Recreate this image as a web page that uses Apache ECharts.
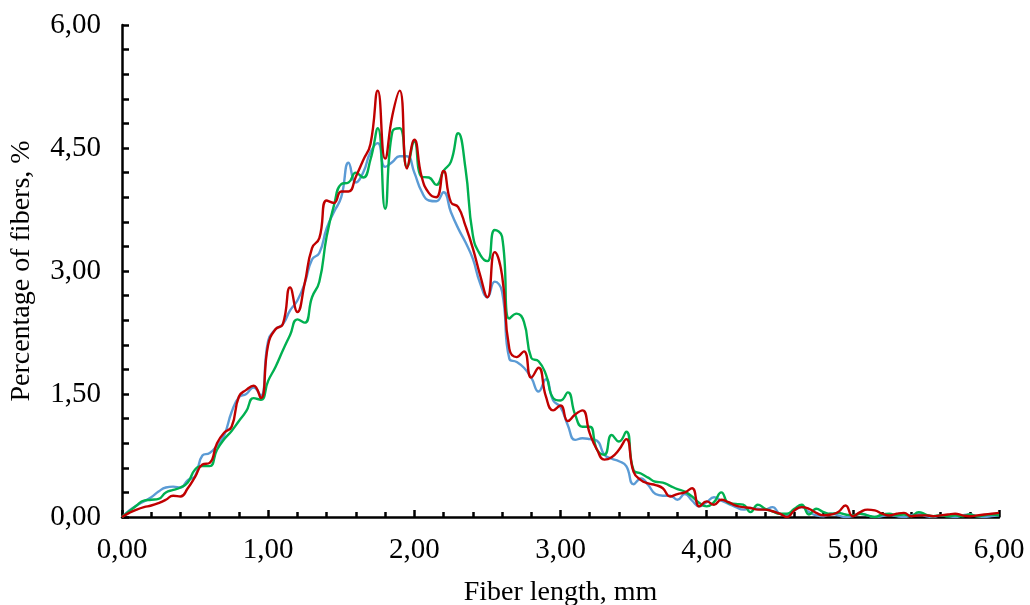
<!DOCTYPE html>
<html>
<head>
<meta charset="utf-8">
<script src="https://cdn.jsdelivr.net/npm/echarts@6/dist/echarts.min.js"></script>
<style>
html,body{margin:0;padding:0;background:#fff;}
#chart{width:1030px;height:605px;}
</style>
</head>
<body>
<div id="chart"></div>
<script>
// Fiber length bins (mm)
const lengths = [0.00,0.05,0.10,0.15,0.20,0.25,0.30,0.35,0.40,0.45,0.50,0.55,0.60,0.65,0.70,0.75,0.80,0.85,0.90,0.95,
1.00,1.05,1.10,1.15,1.20,1.25,1.30,1.35,1.40,1.45,1.50,1.55,1.60,1.65,1.70,1.75,1.80,1.85,1.90,1.95,
2.00,2.05,2.10,2.15,2.20,2.25,2.30,2.35,2.40,2.45,2.50,2.55,2.60,2.65,2.70,2.75,2.80,2.85,2.90,2.95,
3.00,3.05,3.10,3.15,3.20,3.25,3.30,3.35,3.40,3.45,3.50,3.55,3.60,3.65,3.70,3.75,3.80,3.85,3.90,3.95,
4.00,4.05,4.10,4.15,4.20,4.25,4.30,4.35,4.40,4.45,4.50,4.55,4.60,4.65,4.70,4.75,4.80,4.85,4.90,4.95,
5.00,5.05,5.10,5.15,5.20,5.25,5.30,5.35,5.40,5.45,5.50,5.55,5.60,5.65,5.70,5.75,5.80,5.85,5.90,5.95,6.00];

const blueValues = [0.00,0.08,0.14,0.19,0.24,0.31,0.36,0.37,0.36,0.45,0.50,0.75,0.78,0.87,1.00,1.28,1.46,1.50,1.58,1.48,
2.15,2.29,2.35,2.52,2.64,2.85,3.14,3.22,3.52,3.72,3.90,4.32,4.08,4.20,4.45,4.56,4.27,4.33,4.40,4.40,
4.20,3.97,3.86,3.85,3.96,3.72,3.52,3.35,3.15,2.85,2.68,2.87,2.75,1.93,1.89,1.82,1.70,1.53,1.68,1.42,
1.34,1.12,0.94,0.96,0.95,0.93,0.76,0.71,0.68,0.62,0.40,0.47,0.39,0.28,0.26,0.26,0.21,0.28,0.20,0.13,
0.18,0.24,0.20,0.16,0.12,0.09,0.11,0.10,0.09,0.12,0.04,0.02,0.08,0.12,0.06,0.02,0.01,0.04,0.02,0.00,
0.01,0.04,0.02,0.00,0.01,0.03,0.01,0.00,0.02,0.04,0.01,0.00,0.02,0.01,0.00,0.02,0.03,0.01,0.00,0.01,0.02];

const greenValues = [0.00,0.07,0.14,0.20,0.21,0.22,0.30,0.33,0.36,0.42,0.58,0.62,0.62,0.82,0.95,1.05,1.17,1.29,1.45,1.43,
1.66,1.83,2.03,2.22,2.41,2.37,2.68,2.87,3.42,3.80,4.06,4.08,4.20,4.14,4.36,4.74,3.76,4.70,4.74,4.27,
4.58,4.15,4.14,4.05,4.22,4.33,4.68,4.25,3.44,3.20,3.12,3.50,3.42,2.42,2.48,2.38,1.94,1.90,1.74,1.45,
1.42,1.52,1.25,1.10,1.10,0.82,0.76,1.00,0.92,1.04,0.57,0.53,0.48,0.43,0.42,0.38,0.34,0.31,0.25,0.17,
0.13,0.18,0.30,0.17,0.16,0.15,0.06,0.15,0.10,0.07,0.04,0.04,0.10,0.15,0.03,0.10,0.06,0.04,0.05,0.03,
0.02,0.04,0.02,0.00,0.03,0.04,0.02,0.03,0.01,0.06,0.03,0.01,0.02,0.01,0.02,0.01,0.03,0.01,0.02,0.03,0.02];

const redValues = [0.00,0.05,0.09,0.12,0.14,0.17,0.21,0.26,0.25,0.35,0.49,0.64,0.66,0.90,1.03,1.10,1.47,1.55,1.60,1.45,
2.10,2.29,2.35,2.80,2.50,2.85,3.28,3.40,3.86,3.83,3.97,3.97,4.15,4.35,4.55,5.20,4.37,4.90,5.20,4.25,
4.60,4.15,3.95,3.90,4.22,3.84,3.78,3.55,3.28,2.95,2.68,3.23,2.95,2.05,1.95,2.02,1.70,1.82,1.47,1.30,
1.36,1.17,1.25,1.30,1.02,0.82,0.70,0.73,0.82,0.95,0.55,0.45,0.41,0.39,0.35,0.25,0.28,0.30,0.35,0.13,
0.19,0.15,0.21,0.18,0.14,0.12,0.11,0.09,0.09,0.07,0.04,0.00,0.08,0.12,0.10,0.05,0.02,0.03,0.06,0.14,
0.01,0.06,0.09,0.08,0.04,0.02,0.04,0.05,0.01,0.02,0.02,0.01,0.02,0.03,0.04,0.02,0.01,0.02,0.03,0.04,0.05];

const xTitle = 'Fiber length, mm';
const yTitle = 'Percentage of fibers, %';

function pairs(vals){ return lengths.map((x,i)=>[x, vals[i]]); }
const fmt = v => v.toFixed(2).replace('.', ',');
const FONT = '"Liberation Serif", "Times New Roman", serif';

const chart = echarts.init(document.getElementById('chart'), null, {renderer:'canvas'});
const axisCommon = {
  min: 0, max: 6,
  axisLine: {show:true, onZero:false, lineStyle:{color:'#000', width:2.5}},
  axisTick: {show:true, inside:true, length:7, lineStyle:{color:'#000', width:2.5}},
  minorTick: {show:true, splitNumber:5, length:5, lineStyle:{color:'#000', width:2.5}},
  splitLine: {show:false},
  axisLabel: {color:'#000', fontFamily:FONT, fontSize:29, formatter: fmt},
  nameTextStyle: {color:'#000', fontFamily:FONT, fontSize:28},
  nameLocation: 'middle'
};
chart.setOption({
  backgroundColor:'#fff',
  animation:false,
  grid:{left:122, right:31, top:25, bottom:88, containLabel:false, outerBoundsMode:'none'},
  xAxis: Object.assign({}, axisCommon, {
    type:'value', interval:1, name:xTitle, nameGap:62,
    axisLabel: Object.assign({}, axisCommon.axisLabel, {margin:19})
  }),
  yAxis: Object.assign({}, axisCommon, {
    type:'value', interval:1.5, name:yTitle, nameGap:86,
    axisLabel: Object.assign({}, axisCommon.axisLabel, {margin:21}),
    minorTick: Object.assign({}, axisCommon.minorTick, {length:7})
  }),
  series:[
    {type:'line', data:pairs(blueValues), smooth:0.5, symbol:'none', lineStyle:{color:'#5b9bd5', width:2.4}},
    {type:'line', data:pairs(greenValues), smooth:0.5, symbol:'none', lineStyle:{color:'#00b050', width:2.4}},
    {type:'line', data:pairs(redValues), smooth:0.5, symbol:'none', lineStyle:{color:'#c00000', width:2.4}}
  ]
});
</script>
</body>
</html>
